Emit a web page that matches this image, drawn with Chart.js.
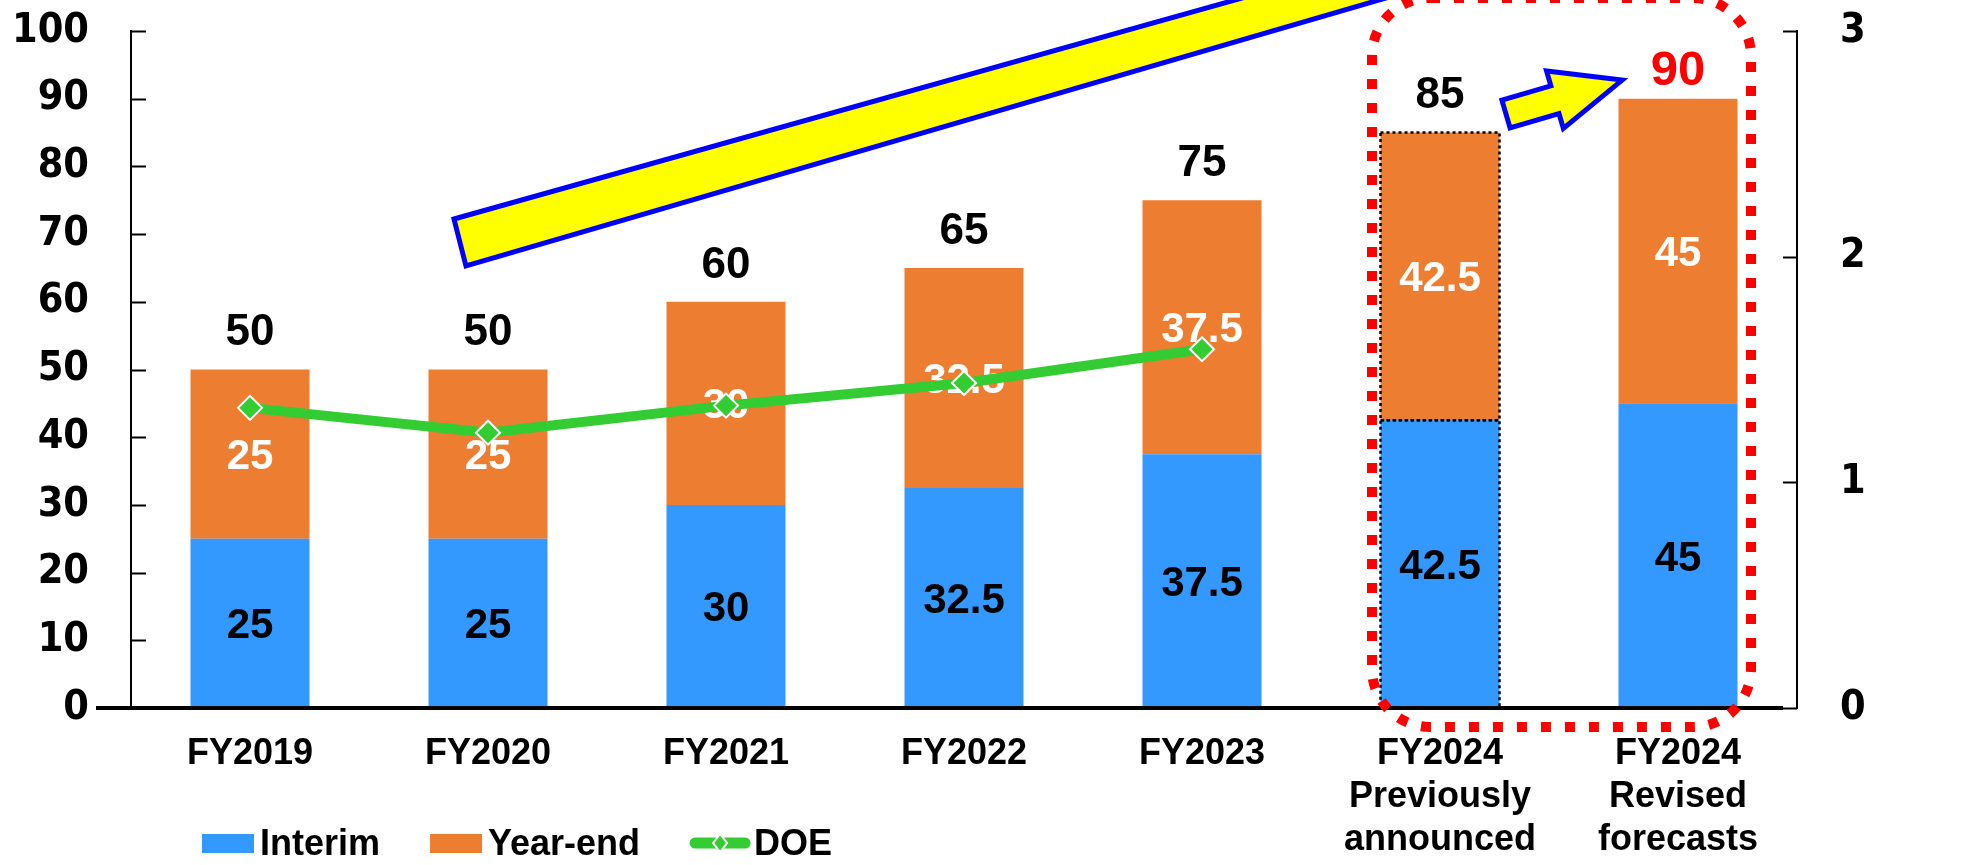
<!DOCTYPE html>
<html>
<head>
<meta charset="utf-8">
<script src="https://cdn.jsdelivr.net/npm/chart.js@4.4.1/dist/chart.umd.min.js"></script>
<style>
  html, body { margin: 0; padding: 0; background: #ffffff; }
  #wrap { width: 1966px; height: 865px; position: relative; }
</style>
</head>
<body>
<div id="wrap"><canvas id="c" width="1966" height="865"></canvas></div>
<script>
// Dividend per share (yen) split into interim and year-end, plus DOE (%)
const categories = [
  ['FY2019'], ['FY2020'], ['FY2021'], ['FY2022'], ['FY2023'],
  ['FY2024', 'Previously', 'announced'],
  ['FY2024', 'Revised', 'forecasts']
];
const interim = [25, 25, 30, 32.5, 37.5, 42.5, 45];
const yearEnd = [25, 25, 30, 32.5, 37.5, 42.5, 45];
const doe = [1.33, 1.22, 1.34, 1.44, 1.59, null, null];
const leftTicks = [0, 10, 20, 30, 40, 50, 60, 70, 80, 90, 100];
const rightTicks = [0, 1, 2, 3];
const seriesNames = ['Interim', 'Year-end', 'DOE'];

const BLUE = '#3399FF';
const ORANGE = '#ED7D31';
const GREEN = '#33CC33';
const SANS = "'Liberation Sans', Arial, sans-serif";
const AXIS_FONT = { family: "'DejaVu Sans Condensed', 'DejaVu Sans', sans-serif", weight: 'bold', size: 41 };

// plot box on the canvas
const PLOT = { left: 131, right: 1797, top: 31, bottom: 708 };

// the "previously announced" column is outlined with a dotted border
const dottedIndex = 5;
// the revised forecast total is highlighted in red
const highlightIndex = 6;

function textAt(ctx, str, x, cy, size, color, align) {
  ctx.save();
  ctx.font = 'bold ' + size + 'px ' + SANS;
  ctx.fillStyle = color;
  ctx.textAlign = align || 'center';
  ctx.textBaseline = 'alphabetic';
  ctx.fillText(str, x, cy + size * 0.358);
  ctx.restore();
}

function drawSegmentLabels(chart) {
  const ctx = chart.ctx;
  const mInt = chart.getDatasetMeta(0);
  const mYe = chart.getDatasetMeta(1);
  interim.forEach((v, i) => {
    const b = mInt.data[i];
    textAt(ctx, String(v), b.x, (b.y + b.base) / 2, 42, '#000000');
  });
  yearEnd.forEach((v, i) => {
    const b = mYe.data[i];
    textAt(ctx, String(v), b.x, (b.y + b.base) / 2, 42, '#FFFFFF');
  });
  // dotted outline of the previously announced column
  ctx.save();
  ctx.strokeStyle = '#000000';
  ctx.lineWidth = 2.5;
  ctx.setLineDash([3, 3]);
  [mInt, mYe].forEach(m => {
    const b = m.data[dottedIndex];
    const w = b.width;
    ctx.strokeRect(b.x - w / 2, b.y, w, b.base - b.y);
  });
  ctx.restore();
}

function drawAxisDecor(chart) {
  const ctx = chart.ctx;
  const area = chart.chartArea;
  const y = chart.scales.y;
  const y1 = chart.scales.y1;
  ctx.save();
  ctx.strokeStyle = '#000000';
  ctx.lineWidth = 2;
  leftTicks.forEach(t => {
    const p = Math.round(y.getPixelForValue(t)) + 0.5;
    ctx.beginPath(); ctx.moveTo(area.left, p); ctx.lineTo(area.left + 15, p); ctx.stroke();
  });
  rightTicks.forEach(t => {
    const p = Math.round(y1.getPixelForValue(t)) + 0.5;
    ctx.beginPath(); ctx.moveTo(area.right - 14, p); ctx.lineTo(area.right, p); ctx.stroke();
  });
  // heavy base line
  const base = y.getPixelForValue(0);
  ctx.lineWidth = 4;
  ctx.beginPath(); ctx.moveTo(96, base); ctx.lineTo(area.right - 14, base); ctx.stroke();
  ctx.restore();
}

function drawTotals(chart) {
  const ctx = chart.ctx;
  const x = chart.scales.x;
  const y = chart.scales.y;
  interim.forEach((v, i) => {
    const total = v + yearEnd[i];
    const top = y.getPixelForValue(total);
    if (i === highlightIndex) {
      textAt(ctx, String(total), x.getPixelForValue(i), top - 31, 49, '#FF0000');
    } else {
      textAt(ctx, String(total), x.getPixelForValue(i), top - 40, 44, '#000000');
    }
  });
}

function drawArrows(chart) {
  const ctx = chart.ctx;
  ctx.save();
  ctx.lineJoin = 'miter';
  // long rising band
  ctx.beginPath();
  ctx.moveTo(454, 219);
  ctx.lineTo(1449, -60);
  ctx.lineTo(1585, -60);
  ctx.lineTo(466, 266);
  ctx.closePath();
  ctx.fillStyle = '#FFFF00';
  ctx.fill();
  ctx.strokeStyle = '#0000FF';
  ctx.lineWidth = 5;
  ctx.stroke();

  // small block arrow between the two FY2024 columns
  ctx.save();
  ctx.translate(1506, 114);
  ctx.rotate(Math.atan2(-34, 116.5));
  const L = 121, head = 70, hw = 30, sw = 14.5;
  ctx.beginPath();
  ctx.moveTo(0, -sw);
  ctx.lineTo(L - head, -sw);
  ctx.lineTo(L - head, -hw);
  ctx.lineTo(L, 0);
  ctx.lineTo(L - head, hw);
  ctx.lineTo(L - head, sw);
  ctx.lineTo(0, sw);
  ctx.closePath();
  ctx.fillStyle = '#FFFF00';
  ctx.fill();
  ctx.strokeStyle = '#0000FF';
  ctx.lineWidth = 5;
  ctx.stroke();
  ctx.restore();
  ctx.restore();
}

function drawHighlightFrame(chart) {
  const ctx = chart.ctx;
  const x = chart.scales.x;
  const y = chart.scales.y;
  const left = x.getPixelForValue(5) - 68;
  const right = x.getPixelForValue(6) + 73;
  const top = -2;
  const bottom = y.getPixelForValue(0) + 19;
  const r = 58;
  ctx.save();
  ctx.strokeStyle = '#FF0000';
  ctx.lineWidth = 10;
  ctx.setLineDash([10, 14]);
  ctx.beginPath();
  ctx.roundRect(left, top, right - left, bottom - top, r);
  ctx.stroke();
  ctx.restore();
}

function drawLegend(chart) {
  const ctx = chart.ctx;
  const cy = 843;
  let xPos = 202;
  ctx.save();
  ctx.font = 'bold 36px ' + SANS;
  const swatches = [BLUE, ORANGE, null];
  seriesNames.forEach((name, i) => {
    if (swatches[i]) {
      ctx.fillStyle = swatches[i];
      ctx.fillRect(xPos, 834, 52, 19);
      xPos += 52 + 6;
    } else {
      ctx.strokeStyle = GREEN;
      ctx.lineWidth = 11;
      ctx.lineCap = 'round';
      ctx.beginPath(); ctx.moveTo(xPos + 5, cy); ctx.lineTo(xPos + 55, cy); ctx.stroke();
      ctx.fillStyle = GREEN;
      ctx.strokeStyle = '#FFFFFF';
      ctx.lineWidth = 2;
      ctx.beginPath();
      ctx.moveTo(xPos + 30, cy - 9); ctx.lineTo(xPos + 37, cy); ctx.lineTo(xPos + 30, cy + 9); ctx.lineTo(xPos + 23, cy);
      ctx.closePath(); ctx.fill(); ctx.stroke();
      xPos += 60 + 4;
    }
    ctx.fillStyle = '#000000';
    ctx.textAlign = 'left';
    ctx.textBaseline = 'alphabetic';
    ctx.fillText(name, xPos, 855);
    xPos += ctx.measureText(name).width + 50;
  });
  ctx.restore();
}

const decor = {
  id: 'decor',
  beforeDatasetDraw(chart, args) {
    if (args.meta.type === 'line') drawSegmentLabels(chart);
  },
  afterDatasetsDraw(chart) {
    drawAxisDecor(chart);
    drawTotals(chart);
    drawArrows(chart);
    drawHighlightFrame(chart);
  },
  afterDraw(chart) {
    drawLegend(chart);
  }
};

// vertical axes: fixed width and no extra label overhang padding
function fitVertical(width) {
  return function (s) {
    s.width = width;
    s.paddingTop = 0;
    s.paddingBottom = 0;
  };
}

new Chart(document.getElementById('c'), {
  data: {
    labels: categories,
    datasets: [
      { type: 'bar', label: seriesNames[0], data: interim, backgroundColor: BLUE, yAxisID: 'y', order: 1,
        barPercentage: 0.5, categoryPercentage: 1.0 },
      { type: 'bar', label: seriesNames[1], data: yearEnd, backgroundColor: ORANGE, yAxisID: 'y', order: 1,
        barPercentage: 0.5, categoryPercentage: 1.0 },
      { type: 'line', label: seriesNames[2], data: doe, yAxisID: 'y1', order: 0,
        borderColor: GREEN, borderWidth: 10, tension: 0, spanGaps: false,
        pointStyle: 'rectRot', pointRadius: 12, pointBackgroundColor: GREEN,
        pointBorderColor: '#FFFFFF', pointBorderWidth: 2 }
    ]
  },
  options: {
    responsive: false,
    maintainAspectRatio: false,
    animation: false,
    devicePixelRatio: 1,
    layout: { padding: { top: PLOT.top, left: 0, right: 0, bottom: 0 } },
    plugins: { legend: { display: false }, tooltip: { enabled: false }, title: { display: false } },
    scales: {
      x: {
        stacked: true,
        grid: { display: false, drawTicks: false },
        border: { display: false },
        ticks: { color: '#000000', padding: 24, maxRotation: 0, autoSkip: false,
                 font: { family: SANS, weight: 'bold', size: 36, lineHeight: 1.2 } },
        afterFit(s) { s.height = 865 - PLOT.bottom; s.paddingLeft = 0; s.paddingRight = 0; }
      },
      y: {
        stacked: true, position: 'left', min: 0, max: 100,
        grid: { display: false, drawTicks: false },
        border: { display: true, color: '#000000', width: 2 },
        afterBuildTicks(s) { s.ticks = leftTicks.map(v => ({ value: v })); },
        ticks: { color: '#000000', padding: 42, font: AXIS_FONT },
        afterFit: fitVertical(PLOT.left)
      },
      y1: {
        position: 'right', min: 0, max: 3,
        grid: { display: false, drawTicks: false },
        border: { display: true, color: '#000000', width: 2 },
        afterBuildTicks(s) { s.ticks = rightTicks.map(v => ({ value: v })); },
        ticks: { color: '#000000', padding: 43, font: AXIS_FONT },
        afterFit: fitVertical(1966 - PLOT.right)
      }
    }
  },
  plugins: [decor]
});
</script>
</body>
</html>
